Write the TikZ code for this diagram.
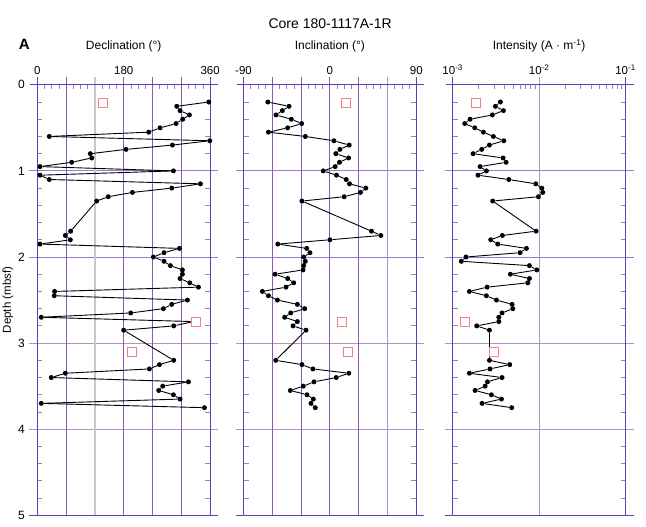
\documentclass[tikz,border=0pt]{standalone}
\usepackage{fontspec}
\setmainfont{Liberation Sans}
\definecolor{gridpurple}{RGB}{140,90,180}
\definecolor{gridhpurple}{RGB}{150,125,205}
\definecolor{gridmix}{RGB}{170,150,200}
\definecolor{gridgray}{RGB}{200,200,200}
\definecolor{framepurple}{RGB}{100,60,180}
\definecolor{markred}{RGB}{245,130,130}
\tikzset{
  gridp/.style={draw=gridpurple, line width=1bp},
  gridh/.style={draw=gridhpurple, line width=1bp},
  gridm/.style={draw=gridmix, line width=1.1bp},
  gridg/.style={draw=gridgray, line width=1.3bp},
  framel/.style={draw=framepurple, line width=1bp},
  minortick/.style={draw=gridhpurple, line width=0.8bp},
  dot/.style={circle, fill=black, inner sep=0pt, minimum size=5bp},
  dataline/.style={draw=black, line width=0.9bp},
  marker/.style={draw=markred, fill=white, line width=0.8bp, minimum size=9bp, inner sep=0pt},
  ticklbl/.style={font=\fontsize{11.5bp}{13bp}\selectfont, anchor=base, inner sep=0pt},
  axtitle/.style={font=\fontsize{12bp}{14bp}\selectfont, anchor=base, inner sep=0pt},
  depthlbl/.style={font=\fontsize{12bp}{14bp}\selectfont, anchor=east, inner sep=0pt},
}
\def\decdata{0.20/357.2,0.25/290.5,0.30/297.4,0.35/316.9,0.40/303.0,0.45/289.1,0.50/255.8,0.55/232.1,0.60/25.0,0.65/359.3,0.70/281.5,0.75/184.9,0.80/110.5,0.85/113.3,0.90/71.6,0.95/5.6,1.00/283.5,1.05/5.6,1.10/25.0,1.15/339.8,1.20/280.1,1.25/198.1,1.30/148.0,1.35/123.7,1.70/69.5,1.75/58.4,1.80/68.8,1.85/5.6,1.90/296.1,1.95/264.1,2.00/241.9,2.05/264.1,2.10/277.3,2.15/302.3,2.20/302.3,2.25/297.4,2.30/317.6,2.35/335.7,2.40/36.1,2.45/35.4,2.50/312.7,2.55/280.1,2.60/262.7,2.65/194.6,2.70/8.3,2.75/325.2,2.80/284.2,2.85/180.0,3.20/284.2,3.25/254.4,3.30/233.5,3.35/58.4,3.40/29.2,3.45/314.8,3.50/261.3,3.55/253.0,3.60/283.5,3.65/297.4,3.70/8.3,3.75/348.2}
\def\incdata{0.20/-64.7,0.25/-42.6,0.30/-49.5,0.35/-56.1,0.40/-40.2,0.45/-29.4,0.50/-44.0,0.55/-64.0,0.60/-25.6,0.65/4.2,0.70/20.1,0.75/10.4,0.80/6.2,0.85/19.4,0.90/10.0,0.95/5.5,1.00/-6.9,1.05/6.9,1.10/17.0,1.15/20.4,1.20/37.4,1.25/31.8,1.30/14.9,1.35/-29.1,1.70/43.3,1.75/53.0,1.80/0.0,1.85/-54.3,1.90/-24.2,1.95/-20.8,2.00/-27.3,2.05/-25.6,2.10/-27.3,2.15/-28.0,2.20/-57.1,2.25/-44.0,2.30/-37.7,2.35/-45.7,2.40/-70.3,2.45/-64.0,2.50/-54.7,2.55/-33.9,2.60/-26.3,2.65/-40.8,2.70/-47.1,2.75/-33.9,2.80/-38.4,2.85/-24.9,3.20/-56.4,3.25/-29.1,3.30/-17.7,3.35/19.7,3.40/6.6,3.45/-16.6,3.50/-27.7,3.55/-41.2,3.60/-23.9,3.65/-17.3,3.70/-19.7,3.75/-15.2}
\def\intdata{0.20/0.552,0.25/0.494,0.30/0.587,0.35/0.459,0.40/0.201,0.45/0.139,0.50/0.255,0.55/0.355,0.60/0.471,0.65/0.591,0.70/0.425,0.75/0.336,0.80/0.236,0.85/0.583,0.90/0.618,0.95/0.317,1.00/0.390,1.05/0.293,1.10/0.649,1.15/0.961,1.20/1.031,1.25/1.042,1.30/0.992,1.35/0.463,1.70/0.965,1.75/0.575,1.80/0.440,1.85/0.521,1.90/0.853,1.95/0.780,2.00/0.154,2.05/0.100,2.10/0.888,2.15/0.973,2.20/0.668,2.25/0.888,2.30/0.869,2.35/0.398,2.40/0.193,2.45/0.390,2.50/0.506,2.55/0.687,2.60/0.695,2.65/0.571,2.70/0.533,2.75/0.533,2.80/0.278,2.85/0.425,3.20/0.425,3.25/0.660,3.30/0.432,3.35/0.193,3.40/0.571,3.45/0.402,3.50/0.375,3.55/0.259,3.60/0.448,3.65/0.564,3.70/0.340,3.75/0.683}
\begin{document}
\begin{tikzpicture}[x=1bp,y=-1bp]
\useasboundingbox (0,0) rectangle (646,527);
% ---------- panel frames and grids ----------
\foreach \L in {37.3,243.5,452.7} {
  \foreach \k in {1,2} \draw[gridh] (\L-8, 84.8+86.1*\k) -- (\L+180.8, 84.8+86.1*\k);
  \foreach \k in {3,4} \draw[gridm] (\L-8, 84.8+86.1*\k) -- (\L+180.8, 84.8+86.1*\k);
  \foreach \k in {0,...,4} \foreach \s in {0.2,0.4,0.6,0.8} {
    \draw[minortick] (\L, 84.8+86.1*\k+86.1*\s) -- ++(5,0);
    \draw[minortick] (\L+172.8, 84.8+86.1*\k+86.1*\s) -- ++(-5,0);
  }
}
% vertical grid lines
\draw[gridg] (94.9,77) -- (94.9,515.3);
\foreach \xx in {66.1,123.7,152.5,181.3,272.3,301.1,329.9,358.7}
  \draw[gridp] (\xx,77) -- (\xx,515.3);
\foreach \xx in {387.5,539.1}
  \draw[gridm] (\xx,77) -- (\xx,515.3);
% minor ticks on top axes (linear panels)
\foreach \L in {37.3,243.5} \foreach \m in {0,...,5} \foreach \s in {7.2,14.4,21.6}
  \draw[minortick] (\L+28.8*\m+\s, 84.8) -- ++(0,4);
% log ticks
\foreach \dd in {0,86.4} \foreach \n in {2,...,9}
  \draw[minortick] ({452.7+\dd+86.4*log10(\n)}, 84.8) -- ++(0,4);
% frames
\foreach \L in {37.3,243.5,452.7} {
  \draw[framel] (\L-7, 84.8) -- (\L+180.8, 84.8);
  \draw[framel] (\L-8, 515.3) -- (\L+180.8, 515.3);
  \draw[framel] (\L, 77) -- (\L, 515.3);
  \draw[framel] (\L+172.8, 77) -- (\L+172.8, 515.3);
}
% ---------- texts ----------
\node[font=\fontsize{14bp}{16bp}\selectfont, anchor=base, inner sep=0pt] (title) at (330.2,28.3) {Core 180-1117A-1R};
\node[font=\bfseries\fontsize{15bp}{17bp}\selectfont, anchor=base west, inner sep=0pt] (lblA) at (18.6,50) {A};
\node[axtitle] (tdec) at (123.7,50) {Declination (°)};
\node[axtitle] (tinc) at (329.9,50) {Inclination (°)};
\node[axtitle] (tint) at (539.1,50) {Intensity (A · m\textsuperscript{-1})};
\node[ticklbl] (d0) at (37.3,75) {0};
\node[ticklbl] (d180) at (123.7,75) {180};
\node[ticklbl] (d360) at (210.1,75) {360};
\node[ticklbl] (im90) at (243.5,75) {-90};
\node[ticklbl] (i0) at (329.9,75) {0};
\node[ticklbl] (i90) at (416.3,75) {90};
\node[ticklbl] (e3) at (452.7,75) {10\textsuperscript{-3}};
\node[ticklbl] (e2) at (539.1,75) {10\textsuperscript{-2}};
\node[ticklbl] (e1) at (625.5,75) {10\textsuperscript{-1}};
\foreach \k in {0,...,5} \node[depthlbl] (z\k) at (25, 84.8+86.1*\k) {\k};
\node[font=\fontsize{11.5bp}{13bp}\selectfont, rotate=90, inner sep=0pt] (ylab) at (8,300) {Depth (mbsf)};
% ---------- data ----------
\begin{scope}[shift={(37.3,84.8)}, x=0.48bp, y=-86.1bp]
  \foreach \d/\v [count=\i] in \decdata { \node[dot] (dec\i) at (\v,\d) {}; }
  \foreach \i [remember=\i as \j (initially 1)] in {2,...,60} { \draw[dataline] (dec\j) -- (dec\i); }
  \node[marker] (decm1) at (137.6,0.205) {};
  \node[marker] (decm2) at (330.8,2.755) {};
  \node[marker] (decm3) at (198.0,3.105) {};
\end{scope}
\begin{scope}[shift={(329.9,84.8)}, x=0.96bp, y=-86.1bp]
  \foreach \d/\v [count=\i] in \incdata { \node[dot] (inc\i) at (\v,\d) {}; }
  \foreach \i [remember=\i as \j (initially 1)] in {2,...,60} { \draw[dataline] (inc\j) -- (inc\i); }
  \node[marker] (incm1) at (17.0,0.205) {};
  \node[marker] (incm2) at (12.8,2.755) {};
  \node[marker] (incm3) at (19.0,3.105) {};
\end{scope}
\begin{scope}[shift={(452.7,84.8)}, x=86.4bp, y=-86.1bp]
  \foreach \d/\v [count=\i] in \intdata { \node[dot] (int\i) at (\v,\d) {}; }
  \foreach \i [remember=\i as \j (initially 1)] in {2,...,60} { \draw[dataline] (int\j) -- (int\i); }
  \node[marker] (intm1) at (0.263,0.205) {};
  \node[marker] (intm2) at (0.143,2.755) {};
  \node[marker] (intm3) at (0.471,3.105) {};
\end{scope}
\end{tikzpicture}
\end{document}
